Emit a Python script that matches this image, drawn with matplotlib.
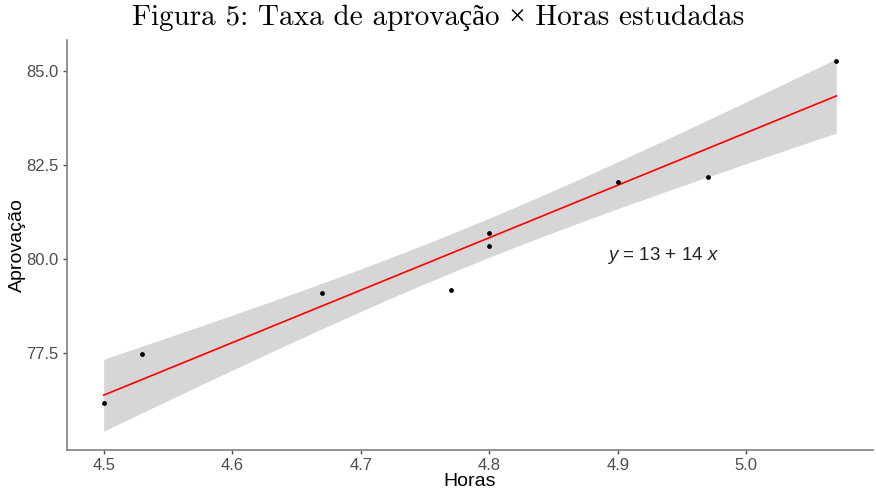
import matplotlib.pyplot as plt
import numpy as np

# --- Data ---
horas = [4.50, 4.53, 4.67, 4.77, 4.80, 4.80, 4.90, 4.97, 5.07]
aprovacao = [76.17, 77.47, 79.09, 79.19, 80.70, 80.36, 82.06, 82.19, 85.26]
x_ticks = [4.5, 4.6, 4.7, 4.8, 4.9, 5.0]
y_ticks = [77.5, 80.0, 82.5, 85.0]
eq_intercept = 13  # as printed on the chart
eq_slope = 14
t_crit = 2.3646  # t(0.975, df=7)

plt.rcParams["mathtext.fontset"] = "custom"
plt.rcParams["mathtext.rm"] = "Liberation Sans"
plt.rcParams["mathtext.it"] = "Liberation Sans:italic"

# --- Linear fit + 95% confidence band ---
x = np.array(horas)
y = np.array(aprovacao)
n = len(x)
slope, intercept = np.polyfit(x, y, 1)
resid = y - (intercept + slope * x)
s = np.sqrt((resid ** 2).sum() / (n - 2))
sxx = ((x - x.mean()) ** 2).sum()
xs = np.linspace(x.min(), x.max(), 80)
fit = intercept + slope * xs
se = s * np.sqrt(1 / n + (xs - x.mean()) ** 2 / sxx)
lower = fit - t_crit * se
upper = fit + t_crit * se

# --- Plot ---
fig = plt.figure(figsize=(8.76, 4.9), dpi=100)
ax = fig.add_axes([0.0765, 0.082, 0.92, 0.836])

ax.fill_between(xs, lower, upper, color="#d6d6d6", lw=0)
ax.plot(xs, fit, color="#ff0000", lw=1.2)
ax.scatter(x, y, s=6, color="black", zorder=3)

ax.text(4.935, 80.1, f"$y$ = {eq_intercept} + {eq_slope} $x$", fontsize=13.5,
        family="Liberation Sans", color="#222222", ha="center", va="center")

xr = x.max() - x.min()
ax.set_xlim(x.min() - 0.05 * xr, x.max() + 0.05 * xr)
ylo, yhi = min(lower.min(), y.min()), max(upper.max(), y.max())
yr = yhi - ylo
ax.set_ylim(ylo - 0.05 * yr, yhi + 0.05 * yr)

ax.set_xticks(x_ticks)
ax.set_xticklabels([f"{t:.1f}" for t in x_ticks])
ax.set_yticks(y_ticks)
ax.set_yticklabels([f"{t:.1f}" for t in y_ticks])
ax.tick_params(colors="#4d4d4d", labelsize=12, length=3, width=1, pad=3)
for lab in ax.get_xticklabels() + ax.get_yticklabels():
    lab.set_family("Liberation Sans")

for side in ["top", "right"]:
    ax.spines[side].set_visible(False)
for side in ["left", "bottom"]:
    ax.spines[side].set_color("#808080")
    ax.spines[side].set_linewidth(1.2)

ax.set_xlabel("Horas", fontsize=14, family="Liberation Sans", labelpad=0)
ax.set_ylabel("Aprovação", fontsize=14, family="Liberation Sans", labelpad=0)

fig.suptitle("Figura 5: Taxa de aprovação × Horas estudadas", y=0.99,
             fontsize=21, family=["cmr10", "Liberation Serif"])

fig.savefig("out.png", dpi=100)
